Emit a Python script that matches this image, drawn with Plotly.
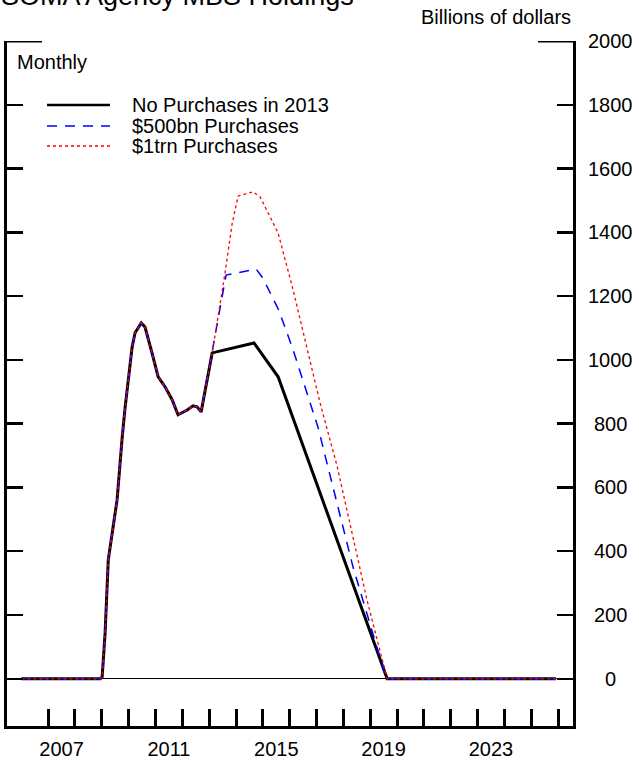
import plotly.graph_objects as go

# ---- data ----
common_dates = ["2006-01-01", "2008-12-10", "2009-01-05", "2009-02-14", "2009-03-29",
                "2009-05-19", "2009-07-27", "2009-10-05", "2009-11-14", "2010-02-17",
                "2010-03-29", "2010-06-21", "2010-08-11", "2010-11-14", "2011-02-06",
                "2011-05-12", "2011-08-15", "2011-11-03", "2012-03-07", "2012-05-26",
                "2012-07-19", "2012-09-13", "2012-12-02", "2013-02-10"]
common_values = [0, 0, 6, 144, 373, 458, 561, 759, 853, 1041, 1085, 1116, 1103, 1022, 947,
                 915, 875, 828, 843, 856, 853, 837, 937, 1022]

none_dates = ["2014-09-02", "2015-07-27", "2019-08-19", "2025-12-01"]
none_values = [1053, 947, 0, 0]

bn500_dates = ["2013-08-18", "2014-10-01", "2014-12-20", "2015-03-01", "2015-08-07",
               "2016-02-17", "2017-01-22", "2018-05-11", "2019-08-08", "2025-12-01"]
bn500_values = [1266, 1285, 1260, 1229, 1155, 1031, 787, 351, 0, 0]

trn1_dates = ["2013-08-04", "2013-11-10", "2014-01-30", "2014-08-22", "2014-11-24",
              "2015-07-27", "2016-02-17", "2017-02-17", "2017-10-09", "2018-11-17",
              "2019-08-19", "2025-12-01"]
trn1_values = [1273, 1429, 1514, 1527, 1511, 1398, 1219, 865, 665, 248, 0, 0]

series_names = ["No Purchases in 2013", "$500bn Purchases", "$1trn Purchases"]
x_year_labels = ["2007", "2011", "2015", "2019", "2023"]
y_tick_values = [0, 200, 400, 600, 800, 1000, 1200, 1400, 1600, 1800, 2000]

FONT = "Liberation Sans, Arial, Helvetica, sans-serif"
FS = 20

# geometry (pixels)
W, H = 639, 761
ML, MR, MT, MB = 7, 66, 41, 35
PW, PH = W - ML - MR, H - MT - MB


def px_x(px):
    return (px - ML) / PW


def px_y(py):
    return (H - MB - py) / PH


styles = [
    dict(color="black", width=3, dash="solid"),
    dict(color="#0000ff", width=1.5, dash="10px,8px"),
    dict(color="#ff0000", width=1.3, dash="3px,3px"),
]
data_sets = [
    (common_dates + none_dates, common_values + none_values),
    (common_dates + bn500_dates, common_values + bn500_values),
    (common_dates + trn1_dates, common_values + trn1_values),
]

fig = go.Figure()
for name, (xs, ys), st in zip(series_names, data_sets, styles):
    fig.add_trace(go.Scatter(x=xs, y=ys, mode="lines", name=name, line=st,
                             showlegend=False, hoverinfo="skip"))

annotations = []
shapes = []

# title (cut off at top in the reference)
annotations.append(dict(text="SOMA Agency MBS Holdings", xref="paper", yref="paper",
                        x=px_x(-1), y=px_y(13), xanchor="left", yanchor="bottom",
                        showarrow=False, font=dict(family=FONT, size=27, color="black")))
annotations.append(dict(text="Billions of dollars", xref="paper", yref="paper",
                        x=px_x(573), y=px_y(17), xanchor="right", yanchor="middle",
                        showarrow=False, font=dict(family=FONT, size=FS, color="black")))
annotations.append(dict(text="Monthly", xref="paper", yref="paper",
                        x=px_x(15), y=px_y(62), xanchor="left", yanchor="middle",
                        showarrow=False, font=dict(family=FONT, size=FS, color="black")))

# right-side y tick labels, centred
for v in y_tick_values:
    annotations.append(dict(text=str(v), xref="paper", yref="y", x=px_x(610), y=v,
                            xanchor="center", yanchor="middle", showarrow=False,
                            font=dict(family=FONT, size=FS, color="black")))

# manual legend
leg_rows = [105, 126, 146]
for name, st, row in zip(series_names, styles, leg_rows):
    shapes.append(dict(type="line", xref="paper", yref="paper", x0=px_x(47), x1=px_x(110),
                       y0=px_y(row), y1=px_y(row),
                       line=dict(color=st["color"], width=st["width"] if st["width"] < 3 else 2.5,
                                 dash=st["dash"])))
    annotations.append(dict(text=name, xref="paper", yref="paper", x=px_x(130), y=px_y(row),
                            xanchor="left", yanchor="middle", showarrow=False,
                            font=dict(family=FONT, size=FS, color="black")))

# longer ticks at the top (2000) on both sides
shapes.append(dict(type="line", xref="paper", yref="y", x0=0, x1=35 / PW, y0=2000, y1=2000,
                   line=dict(color="black", width=3)))
shapes.append(dict(type="line", xref="paper", yref="y", x0=1 - 35 / PW, x1=1, y0=2000, y1=2000,
                   line=dict(color="black", width=3)))

fig.update_layout(
    width=W, height=H, autosize=False,
    margin=dict(l=ML, r=MR, t=MT, b=MB, pad=0),
    paper_bgcolor="white", plot_bgcolor="white",
    font=dict(family=FONT, size=FS, color="black"),
    showlegend=False, hovermode=False,
    annotations=annotations, shapes=shapes,
    xaxis=dict(
        type="date", range=["2005-06-20", "2026-07-22"], automargin=False,
        showgrid=False, zeroline=False,
        showline=True, linecolor="black", linewidth=3, mirror=False,
        tickvals=[f"{y}-07-02" for y in x_year_labels], ticktext=x_year_labels,
        ticks="", tickfont=dict(family=FONT, size=FS, color="black"),
        ticklabelstandoff=3,
        minor=dict(tickvals=[f"{y}-01-01" for y in range(2007, 2027)], ticks="inside",
                   ticklen=17, tickwidth=3, tickcolor="black", showgrid=False),
    ),
    yaxis=dict(
        side="right", range=[-148, 2000], automargin=False,
        showgrid=False,
        zeroline=True, zerolinecolor="black", zerolinewidth=1,
        showline=True, linecolor="black", linewidth=3, mirror="ticks",
        tickvals=y_tick_values, ticks="inside", ticklen=16, tickwidth=2.5, tickcolor="black",
        showticklabels=False,
    ),
)

fig.write_html("out.html", config={"displayModeBar": False, "staticPlot": True},
               post_script="document.body.style.margin='0px';")
